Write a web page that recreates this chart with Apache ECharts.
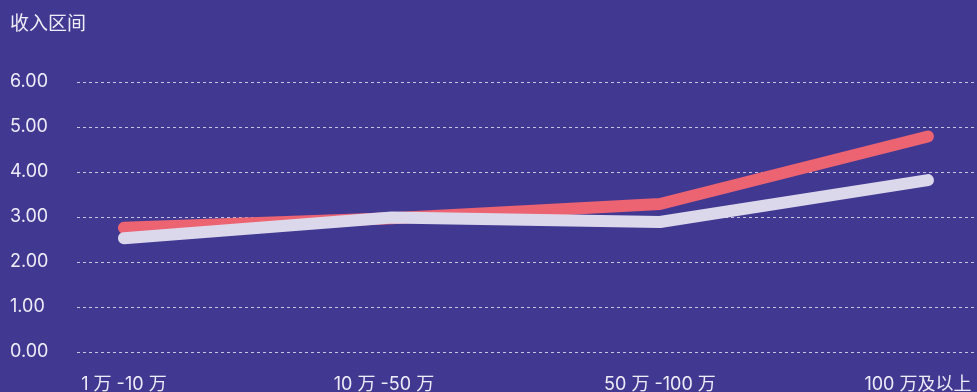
<!DOCTYPE html>
<html>
<head>
<meta charset="utf-8">
<script src="https://cdn.jsdelivr.net/npm/echarts@6/dist/echarts.min.js"></script>
<style>
  html, body { margin: 0; padding: 0; background: #413991; }
  #chart { width: 977px; height: 392px; }
</style>
</head>
<body>
<div id="chart"></div>
<script>
// Income bracket categories and the two series plotted over them
const categories = ['1 万 -10 万', '10 万 -50 万', '50 万 -100 万', '100 万及以上'];
const seriesA = [2.76, 2.97, 3.29, 4.79];
const seriesB = [2.53, 2.99, 2.89, 3.82];
const yTicks = [0, 1, 2, 3, 4, 5, 6];

const FONT = "Inter, 'Noto Sans CJK SC', sans-serif";
const LABEL_COLOR = '#eeecf8';
const chart = echarts.init(document.getElementById('chart'));

// Category positions are indices 0..n-1 on a value axis so the lines can be
// inset from the grid edges while the dashed gridlines span the full width.
const toPairs = arr => arr.map((v, i) => [i, v]);

// Rich styles nudging the wider labels left so the last one stays on canvas
const labelRich = {
  base: { color: LABEL_COLOR, fontSize: 18, fontFamily: FONT },
  mid: { color: LABEL_COLOR, fontSize: 18, fontFamily: FONT, padding: [0, 16, 0, 0] },
  end: { color: LABEL_COLOR, fontSize: 18, fontFamily: FONT, padding: [0, 20, 0, 0] }
};
const labelStyleKey = ['base', 'mid', 'base', 'end'];

chart.setOption({
  backgroundColor: '#413991',
  animation: false,
  title: {
    text: '收入区间',
    left: 5,
    top: 10,
    textStyle: { color: LABEL_COLOR, fontSize: 19, fontWeight: 'normal', fontFamily: FONT }
  },
  grid: { left: 77, right: 0, top: 82, bottom: 40, outerBoundsMode: 'none' },
  xAxis: {
    type: 'value',
    min: -0.175,
    max: 3.183,
    splitLine: { show: false },
    axisLine: { show: false },
    axisTick: { show: false },
    axisLabel: {
      customValues: categories.map((c, i) => i),
      formatter: v => {
        const i = Math.round(v);
        return categories[i] ? '{' + labelStyleKey[i] + '|' + categories[i] + '}' : '';
      },
      rich: labelRich,
      color: LABEL_COLOR,
      fontSize: 18,
      fontFamily: FONT,
      margin: 24
    }
  },
  yAxis: {
    type: 'value',
    min: yTicks[0],
    max: yTicks[yTicks.length - 1],
    interval: 1,
    axisLine: { show: false },
    axisTick: { show: false },
    axisLabel: {
      formatter: v => v.toFixed(2),
      color: LABEL_COLOR,
      fontSize: 18,
      fontFamily: FONT,
      align: 'left',
      margin: 67
    },
    splitLine: {
      lineStyle: { color: 'rgba(255,255,255,0.7)', type: [3, 3], width: 1 }
    }
  },
  series: [
    {
      type: 'line',
      data: toPairs(seriesA),
      showSymbol: false,
      lineStyle: { color: '#ec6372', width: 12, cap: 'round', join: 'round' },
      itemStyle: { color: '#ec6372' },
      z: 2
    },
    {
      type: 'line',
      data: toPairs(seriesB),
      showSymbol: false,
      lineStyle: { color: '#dcd8ec', width: 12, cap: 'round', join: 'round' },
      itemStyle: { color: '#dcd8ec' },
      z: 3
    }
  ]
});
</script>
</body>
</html>
